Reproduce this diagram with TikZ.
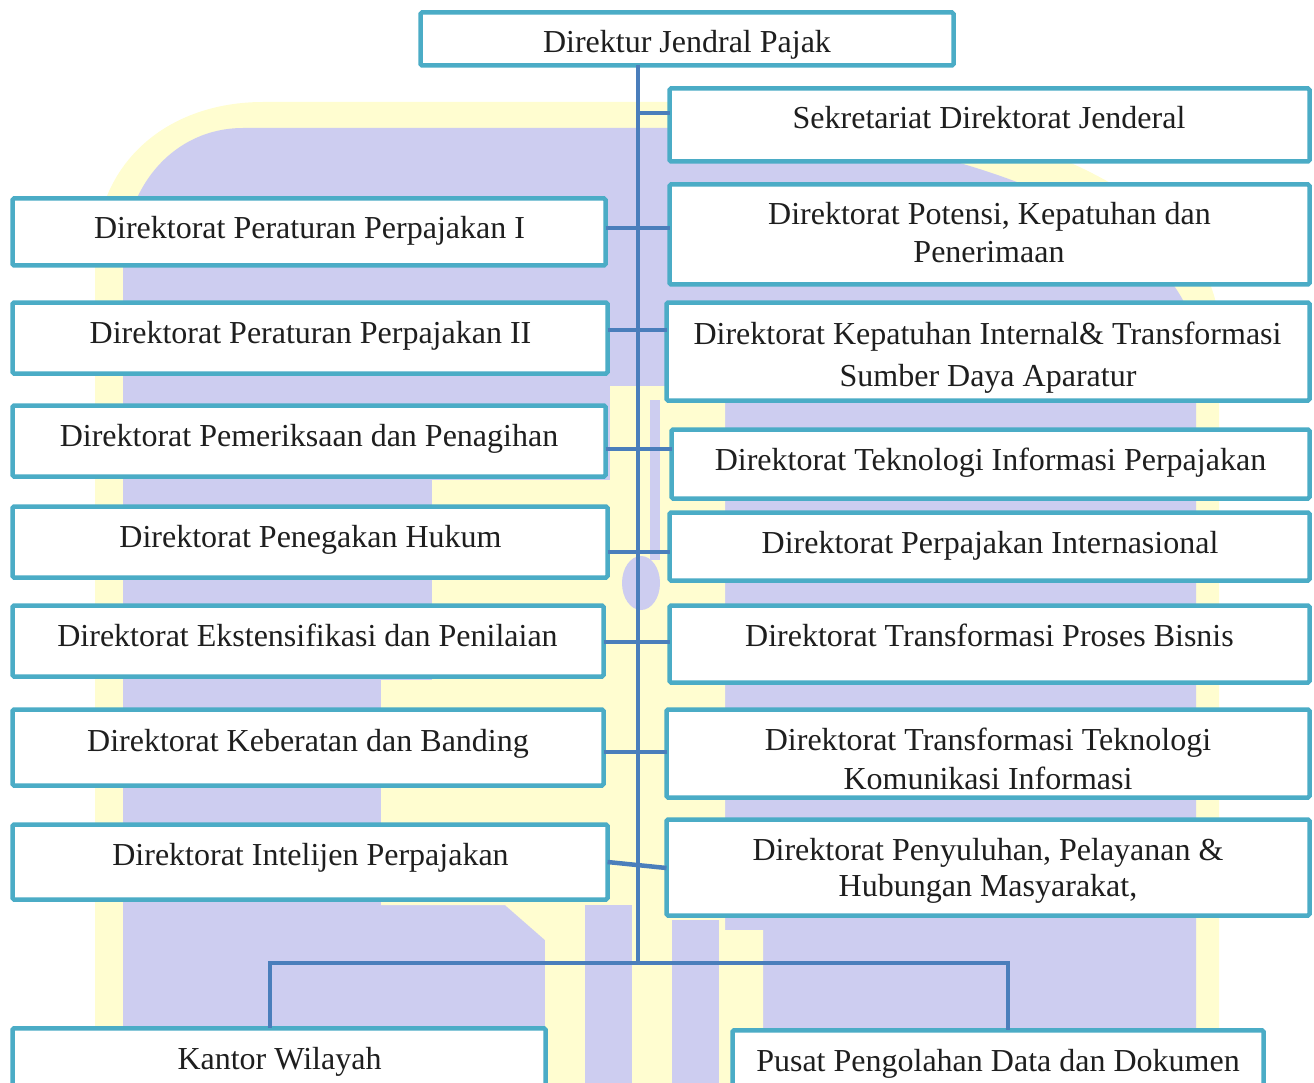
\documentclass[tikz,border=0pt]{standalone}
\usepackage{fontspec}
\setmainfont{Liberation Serif}
\definecolor{boxc}{RGB}{75,172,198}
\definecolor{linec}{RGB}{74,126,187}
\definecolor{wmY}{RGB}{255,253,208}
\definecolor{wmL}{RGB}{205,205,240}
\definecolor{txt}{RGB}{30,30,30}
\begin{document}
\begin{tikzpicture}[x=1pt,y=-1pt,
  orgbox/.style={draw=boxc, line width=4.5pt, fill=white, rounded corners=1.5pt, inner sep=0pt, outer sep=0pt},
  lbl/.style={anchor=base, inner sep=0pt, text=txt, font=\fontsize{32}{38}\selectfont},
  conn/.style={draw=linec, line width=4.5pt}]
\useasboundingbox (0,0) rectangle (1314,1083);
% ---- faint watermark in the background ----
\fill[wmY] (95,1083) -- (95,260) .. controls (95,160) and (170,102) .. (263,102) -- (760,102)
   .. controls (980,102) and (1219,190) .. (1219,330) -- (1219,1083) -- cycle;
\fill[wmL] (123,1083) -- (123,265) .. controls (123,185) and (175,128) .. (243,128) -- (720,128)
   .. controls (920,128) and (1196,215) .. (1196,350) -- (1196,1083) -- cycle;
\fill[wmY] (610,386) -- (725,386) -- (725,930) -- (763,930) -- (763,1083) -- (545,1083) -- (545,940)
   -- (505,905) -- (381,905) -- (381,680) -- (432,680) -- (432,480) -- (610,480) -- cycle;
\fill[wmL] (585,905) rectangle (632,1083);
\fill[wmL] (672,920) rectangle (719,1083);
\fill[wmL] (650,400) rectangle (660,560);
\fill[wmL] (641,583) ellipse [x radius=19pt, y radius=27pt];
% ---- boxes ----
\node[orgbox, minimum width=533pt, minimum height=53pt] (top) at (687,39) {};
\node[orgbox, minimum width=640pt, minimum height=73pt] (sek) at (989.5,125) {};
\node[orgbox, minimum width=593pt, minimum height=67pt] (pp1) at (309,232) {};
\node[orgbox, minimum width=640pt, minimum height=100pt] (pot) at (989.5,234.5) {};
\node[orgbox, minimum width=595pt, minimum height=71pt] (pp2) at (310,338) {};
\node[orgbox, minimum width=643pt, minimum height=98pt] (kep) at (988,351.5) {};
\node[orgbox, minimum width=593pt, minimum height=71pt] (pem) at (309,441) {};
\node[orgbox, minimum width=638pt, minimum height=69pt] (tek) at (990.5,464) {};
\node[orgbox, minimum width=595pt, minimum height=71pt] (pen) at (310,542) {};
\node[orgbox, minimum width=640pt, minimum height=68pt] (inter) at (989.5,546.5) {};
\node[orgbox, minimum width=591pt, minimum height=71pt] (eks) at (308,641) {};
\node[orgbox, minimum width=640pt, minimum height=77pt] (tpb) at (989.5,644) {};
\node[orgbox, minimum width=591pt, minimum height=76pt] (keb) at (308,747.5) {};
\node[orgbox, minimum width=643pt, minimum height=88pt] (ttk) at (988,753.5) {};
\node[orgbox, minimum width=595pt, minimum height=75pt] (intel) at (310,862) {};
\node[orgbox, minimum width=643pt, minimum height=96pt] (peny) at (988,867.5) {};
\node[orgbox, minimum width=533pt, minimum height=71.5pt] (kw) at (279,1064) {};
\node[orgbox, minimum width=531pt, minimum height=69.5pt] (pusat) at (998,1065) {};
% ---- connectors ----
\coordinate (tr) at (638,963);
\coordinate (bl) at (270,963);
\coordinate (br) at (1008,963);
\draw[conn] (top.south -| tr) -- (tr);
\draw[conn] (tr |- 0,113) -- (sek.west |- 0,113);
\draw[conn] (pp1.east |- 0,228) -- (pot.west |- 0,228);
\draw[conn] (pp2.east |- 0,330) -- (kep.west |- 0,330);
\draw[conn] (pem.east |- 0,449) -- (tek.west |- 0,449);
\draw[conn] (pen.east |- 0,552) -- (inter.west |- 0,552);
\draw[conn] (eks.east |- 0,642) -- (tpb.west |- 0,642);
\draw[conn] (keb.east |- 0,752) -- (ttk.west |- 0,752);
\draw[conn] (intel.east |- 0,862) -- (peny.west |- 0,868);
\draw[conn] (kw.north -| bl) -- (bl) -- (br) -- (pusat.north -| br);
% ---- texts ----
\node[lbl] (ttop) at (687,53) {Direktur Jendral Pajak};
\node[lbl] (tsek) at (989,129) {Sekretariat Direktorat Jenderal};
\node[lbl] (tpp1) at (309.5,239) {Direktorat Peraturan Perpajakan I};
\node[lbl] (tpota) at (989.5,225) {Direktorat Potensi, Kepatuhan dan};
\node[lbl] (tpotb) at (989,263) {Penerimaan};
\node[lbl] (tpp2) at (310.5,343) {Direktorat Peraturan Perpajakan II};
\node[lbl] (tkepa) at (987.5,344) {Direktorat Kepatuhan Internal\& Transformasi};
\node[lbl] (tkepb) at (988,386) {Sumber Daya Aparatur};
\node[lbl] (tpem) at (309,446) {Direktorat Pemeriksaan dan Penagihan};
\node[lbl] (ttek) at (990.5,470) {Direktorat Teknologi Informasi Perpajakan};
\node[lbl] (tpen) at (310.5,547) {Direktorat Penegakan Hukum};
\node[lbl] (tint) at (990,553) {Direktorat Perpajakan Internasional};
\node[lbl] (teks) at (307.5,646) {Direktorat Ekstensifikasi dan Penilaian};
\node[lbl] (ttpb) at (989.5,646) {Direktorat Transformasi Proses Bisnis};
\node[lbl] (tkeb) at (308,751) {Direktorat Keberatan dan Banding};
\node[lbl] (tttka) at (988,750) {Direktorat Transformasi Teknologi};
\begin{scope}
\clip (664,755) rectangle (1312,789);
\node[lbl] (tttkb) at (988,789) {Komunikasi Informasi};
\end{scope}
\node[lbl] (tintel) at (310.5,865) {Direktorat Intelijen Perpajakan};
\node[lbl] (tpenya) at (988,860) {Direktorat Penyuluhan, Pelayanan \&};
\node[lbl] (tpenyb) at (988,896) {Hubungan Masyarakat,};
\node[lbl] (tkw) at (279.5,1069) {Kantor Wilayah};
\node[lbl] (tpusat) at (998,1071) {Pusat Pengolahan Data dan Dokumen};
\end{tikzpicture}
\end{document}
